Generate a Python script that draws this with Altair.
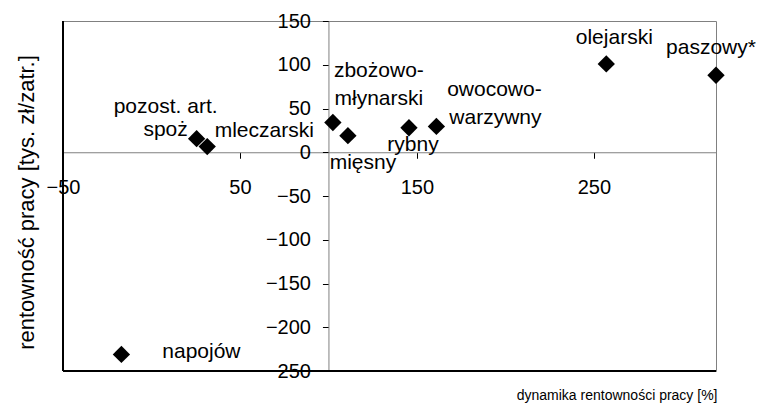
import altair as alt
import pandas as pd

# ---- data ----
branches = ["pozost. art. spoż", "mleczarski", "zbożowo-młynarski", "mięsny", "rybny",
            "owocowo-warzywny", "olejarski", "paszowy*", "napojów"]
dynamika = [25.5, 31.5, 102.5, 111, 145.5, 161, 257, 319, -17]       # x  [%]
rentownosc = [15.5, 6.5, 34, 19, 28, 29.5, 101, 88, -231]            # y  [tys. zł/zatr.]
label_lines = [["pozost. art.", "spoż"], ["mleczarski"], ["zbożowo-", "młynarski"], ["mięsny"],
               ["rybny"], ["owocowo-", "warzywny"], ["olejarski"], ["paszowy*"], ["napojów"]]
x_ticks = [-50, 50, 150, 250]
y_ticks = [-250, -200, -150, -100, -50, 0, 50, 100, 150]
x_domain = [-50, 319]
y_domain = [-250, 150]
x_cross = 100   # vertical axis crosses x at 100 %
y_cross = 0     # horizontal axis crosses y at 0

# ---- style / layout ----
W, H = 653, 350
FONT = "Liberation Sans"
label_offsets = [[(-31, -32), (-31, -9)], [(57, -16)], [(46, -52), (46, -24)], [(15, 27)],
                 [(4, 17)], [(58, -36), (59, -8)], [(8, -26)], [(-5, -27)], [(80, -2)]]

df = pd.DataFrame({"branza": branches, "x": dynamika, "y": rentownosc})

x_axis_px = (x_cross - x_domain[0]) / (x_domain[1] - x_domain[0]) * W
y_axis_px = (y_domain[1] - y_cross) / (y_domain[1] - y_domain[0]) * H

x_enc = alt.X("x:Q", scale=alt.Scale(domain=x_domain, nice=False, zero=False),
              axis=alt.Axis(values=x_ticks, offset=-(H - y_axis_px), grid=False,
                            domainColor="#808080", tickColor="black", tickSize=6,
                            labelPadding=19, labelFontSize=20, labelFont=FONT, labelColor="black",
                            labelFlush=False, labelOverlap=False,
                            title="dynamika rentowności pracy [%]",
                            titleX=W + 1, titleY=395 - 21 - y_axis_px, titleAlign="right",
                            titleBaseline="middle", titleFontSize=14,
                            titleFont=FONT,
                            titleFontWeight="normal", titleColor="black"))
y_enc = alt.Y("y:Q", scale=alt.Scale(domain=y_domain, nice=False, zero=False),
              axis=alt.Axis(values=y_ticks, offset=-x_axis_px, grid=False,
                            domainColor="#808080", tickColor="black", tickSize=6,
                            labelPadding=12, labelFontSize=20, labelFont=FONT, labelColor="black",
                            labelFlush=False, labelOverlap=False,
                            title="rentowność pracy [tys. zł/zatr.]",
                            titleX=26 - 63 - x_axis_px, titleY=202 - 21, titleAngle=270,
                            titleAlign="center", titleBaseline="middle", titleFontSize=22,
                            titleFont=FONT, titleFontWeight="normal", titleColor="black"))

base = alt.Chart(df)

points = base.mark_point(shape="diamond", filled=True, color="black", size=300,
                         opacity=1).encode(x=x_enc, y=y_enc)

layers = [points]
for i, (lines, offs) in enumerate(zip(label_lines, label_offsets)):
    for line, (dx, dy) in zip(lines, offs):
        layers.append(
            base.transform_filter(alt.datum.branza == branches[i])
            .mark_text(text=line, dx=dx, dy=dy, align="center", baseline="middle",
                       font=FONT, fontSize=21, color="black")
            .encode(x=x_enc, y=y_enc)
        )

left_edge = alt.Chart(df).mark_rule(color="black", strokeWidth=1).encode(
    x=alt.value(0), y=alt.value(0), y2=alt.value(H))
bottom_edge = alt.Chart(df).mark_rule(color="black", strokeWidth=1).encode(
    x=alt.value(0), x2=alt.value(W), y=alt.value(H))

chart = alt.layer(*layers, left_edge, bottom_edge).properties(
    width=W, height=H,
    autosize=alt.AutoSizeParams(type="none"),
    padding={"left": 55, "top": 13, "right": 40, "bottom": 32},
    background="white",
).configure_view(stroke="#808080", strokeWidth=1)

chart.save("out.html", embed_options={"renderer": "svg", "actions": False})
